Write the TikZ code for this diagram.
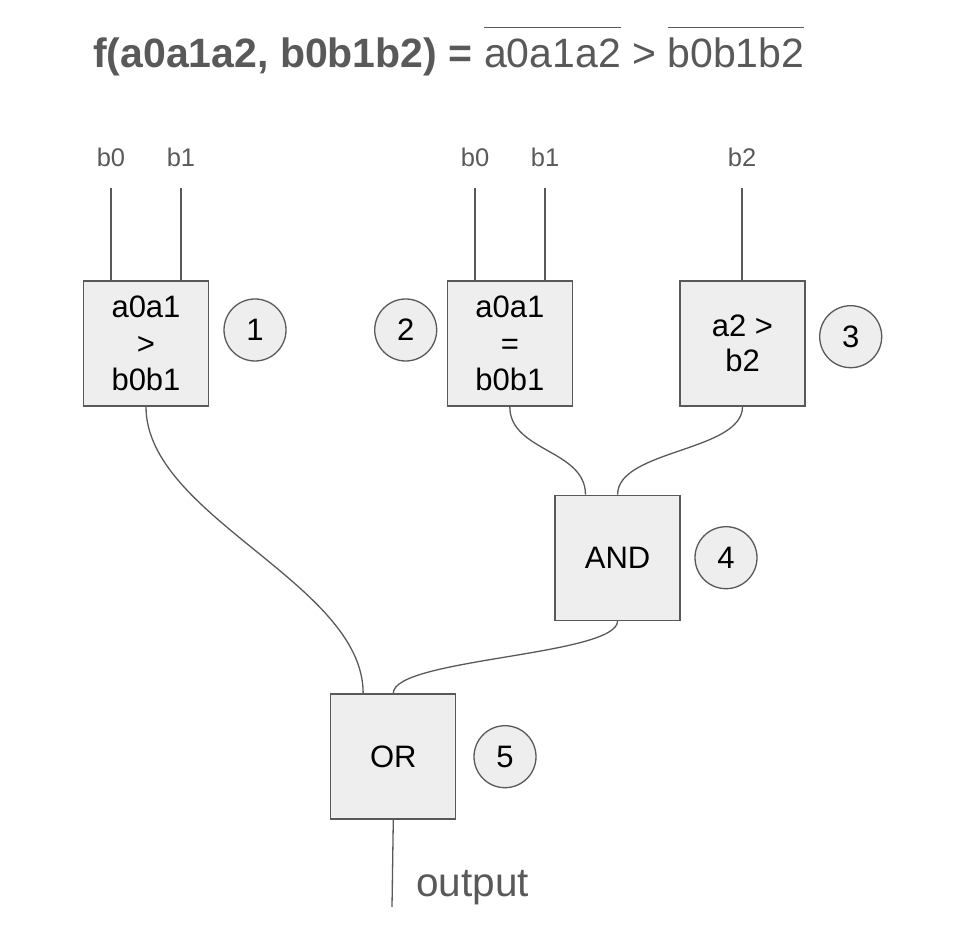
\documentclass[tikz,border=0pt]{standalone}
\usepackage{fontspec}
\setmainfont{Liberation Sans}

\definecolor{wire}{HTML}{595959}
\definecolor{boxfill}{HTML}{EEEEEE}

% bar over a group of bits
\newcommand{\barred}[1]{\setbox0\hbox{#1}\rlap{\raisebox{0.98em}{\rule{\wd0}{1.3pt}}}\box0\relax}

\tikzset{
    gate/.style={draw=wire, fill=boxfill, line width=1.3pt, minimum size=125pt, inner sep=0pt,
        align=center, font=\fontsize{31}{36.5}\selectfont},
    tag/.style={circle, draw=wire, fill=boxfill, line width=1.3pt, minimum size=62pt, inner sep=0pt,
        font=\fontsize{31}{36}\selectfont},
    pin/.style={text=wire, inner sep=0pt, font=\fontsize{25.5}{30}\selectfont},
    link/.style={draw=wire, line width=1.3pt}
}

\begin{document}
\begin{tikzpicture}[x=10pt,y=10pt]
    \useasboundingbox (0,0) rectangle (95.8,92.4);

    % Title
    \node[anchor=base west, inner sep=0pt, text=wire, font=\fontsize{41}{49}\selectfont] (title) at (9.3,85.6)
        {\textbf{f(a0a1a2, b0b1b2) =} \barred{a0a1a2} > \barred{b0b1b2}};

    % Comparators and gates
    \node[gate] (cmp1) at (14.6,58.05) {a0a1\\>\\b0b1};
    \node[gate] (eq1) at (50.98,58.05) {a0a1\\=\\b0b1};
    \node[gate, font=\fontsize{31}{35}\selectfont] (cmp2) at (74.25,58.05) {a2 >\\b2};
    \node[gate] (andg) at (61.76,36.63) {AND};
    \node[gate] (orgate) at (39.33,16.76) {OR};

    % Step numbers
    \node[tag] (n1) at (25.5,59.4) {1};
    \node[tag] (n2) at (40.57,59.4) {2};
    \node[tag] (n3) at (85.07,58.73) {3};
    \node[tag] (n4) at (72.6,36.63) {4};
    \node[tag] (n5) at (50.5,16.73) {5};

    % Inputs
    \foreach \x/\lbl/\g [count=\i] in {11.1/b0/cmp1, 18.1/b1/cmp1, 47.5/b0/eq1, 54.5/b1/eq1, 74.2/b2/cmp2} {
        \node[pin] (pin\i) at (\x,76.7) {\lbl};
        \coordinate (top\i) at (\x,73.6);
        \draw[link] (top\i) -- (top\i |- \g.north);
    }

    % Wires between the blocks
    \draw[link] (cmp1.south) .. controls +(0,-11) and +(0,11) .. ([xshift=33pt]orgate.north west);
    \draw[link] (eq1.south) .. controls +(0,-4.5) and +(0,4.5) .. ([xshift=31pt]andg.north west);
    \draw[link] (cmp2.south) .. controls +(0,-4.5) and +(0,4.5) .. (andg.north);
    \draw[link] (andg.south) .. controls +(0,-3.5) and +(0,3.5) .. (orgate.north);

    % Output
    \coordinate (outEnd) at (39.2,1.7);
    \draw[link] (orgate.south) -- (outEnd);
    \node[anchor=base west, inner sep=0pt, text=wire, font=\fontsize{40.5}{48}\selectfont] (outlbl) at (41.6,2.73) {output};
\end{tikzpicture}
\end{document}
